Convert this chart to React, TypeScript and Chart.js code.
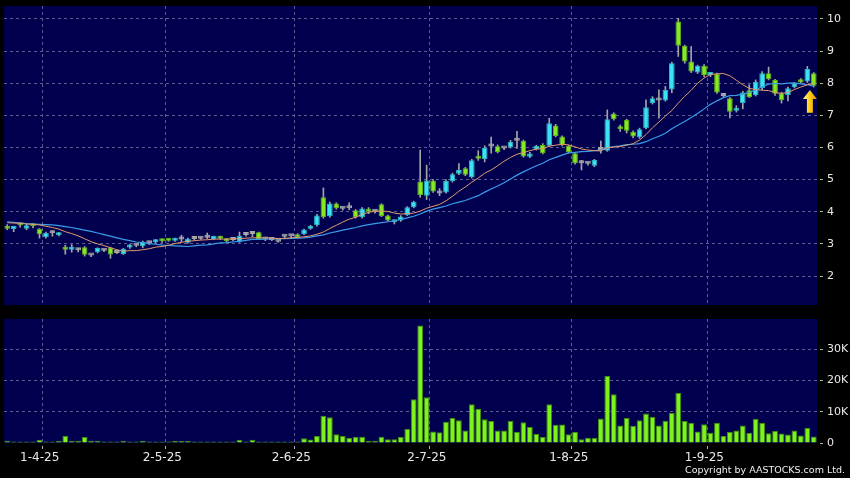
import React, { useEffect, useRef } from 'react';
import { Chart, registerables } from 'chart.js';

Chart.register(...registerables);

// ---------- data ----------
const opens = [
  3.55, 3.46, 3.64, 3.47, 3.61, 3.46, 3.21, 3.33, 3.27, 2.88,
  2.82, 2.80, 2.90, 2.64, 2.74, 2.79, 2.89, 2.72, 2.69, 2.89,
  2.94, 2.93, 3.02, 3.05, 3.13, 3.13, 3.10, 3.14, 3.04, 3.15,
  3.16, 3.19, 3.15, 3.22, 3.14, 3.12, 3.07, 3.28, 3.31, 3.36,
  3.14, 3.12, 3.07, 3.22, 3.24, 3.30, 3.31, 3.47, 3.58, 4.45,
  3.86, 4.26, 4.09, 4.11, 4.05, 3.83, 4.02, 4.00, 4.23, 3.88,
  3.67, 3.73, 3.90, 4.14, 4.94, 4.50, 4.97, 4.57, 4.60, 4.96,
  5.18, 5.35, 5.08, 5.68, 5.64, 6.03, 6.04, 5.97, 6.00, 6.21,
  6.21, 5.71, 5.94, 6.08, 6.05, 6.68, 6.34, 6.05, 5.82, 5.51,
  5.49, 5.43, 5.92, 5.90, 7.06, 6.65, 6.86, 6.49, 6.32, 6.60,
  7.38, 7.46, 7.46, 7.80, 9.92, 9.16, 8.67, 8.33, 8.54, 8.25,
  8.29, 7.60, 7.53, 7.14, 7.38, 7.78, 7.63, 7.84, 8.31, 8.10,
  7.69, 7.63, 7.87, 8.12, 8.05, 8.31,
];
const highs = [
  3.60, 3.55, 3.66, 3.62, 3.63, 3.48, 3.37, 3.41, 3.36, 2.96,
  2.98, 2.86, 2.92, 2.67, 2.88, 2.82, 2.90, 2.74, 2.86, 2.99,
  2.97, 3.09, 3.06, 3.14, 3.15, 3.15, 3.18, 3.27, 3.18, 3.18,
  3.20, 3.34, 3.24, 3.24, 3.16, 3.14, 3.37, 3.32, 3.38, 3.37,
  3.16, 3.15, 3.09, 3.25, 3.26, 3.32, 3.46, 3.58, 3.92, 4.74,
  4.30, 4.28, 4.12, 4.28, 4.07, 4.13, 4.13, 4.04, 4.25, 3.90,
  3.75, 3.88, 4.16, 4.33, 5.92, 5.45, 5.00, 4.72, 5.00, 5.20,
  5.50, 5.38, 5.63, 5.90, 6.05, 6.32, 6.08, 6.00, 6.22, 6.50,
  6.23, 5.85, 6.07, 6.12, 6.91, 6.72, 6.36, 6.07, 5.84, 5.60,
  5.53, 5.63, 6.20, 7.17, 7.08, 6.70, 6.88, 6.52, 6.60, 7.48,
  7.58, 7.79, 7.90, 8.65, 10.02, 9.18, 9.14, 8.56, 8.58, 8.32,
  8.31, 7.63, 7.55, 7.30, 7.75, 7.95, 8.10, 8.36, 8.50, 8.12,
  7.72, 7.88, 8.02, 8.14, 8.52, 8.33,
];
const lows = [
  3.44, 3.38, 3.52, 3.44, 3.50, 3.18, 3.18, 3.24, 3.25, 2.68,
  2.74, 2.75, 2.62, 2.60, 2.72, 2.76, 2.55, 2.70, 2.67, 2.86,
  2.91, 2.88, 2.98, 3.03, 3.05, 3.08, 3.08, 3.07, 3.02, 3.12,
  3.14, 3.16, 3.13, 3.14, 3.06, 3.09, 3.05, 3.24, 3.22, 3.14,
  3.10, 3.10, 3.05, 3.18, 3.20, 3.18, 3.29, 3.45, 3.55, 3.80,
  3.83, 4.08, 4.05, 4.06, 3.80, 3.80, 3.94, 3.96, 3.85, 3.70,
  3.62, 3.70, 3.88, 4.12, 4.45, 4.38, 4.60, 4.50, 4.58, 4.92,
  5.15, 5.12, 5.05, 5.60, 5.55, 5.82, 5.83, 5.93, 5.98, 5.97,
  5.70, 5.68, 5.92, 5.80, 6.03, 6.33, 6.05, 5.83, 5.48, 5.30,
  5.45, 5.40, 5.82, 5.88, 6.85, 6.50, 6.45, 6.30, 6.28, 6.58,
  7.35, 6.91, 7.44, 7.70, 8.83, 8.62, 8.33, 8.30, 8.20, 8.20,
  7.68, 7.55, 6.92, 7.10, 7.20, 7.55, 7.60, 7.80, 8.10, 7.62,
  7.38, 7.45, 7.85, 8.00, 8.02, 7.88,
];
const closes = [
  3.47, 3.51, 3.58, 3.58, 3.55, 3.30, 3.35, 3.33, 3.33, 2.82,
  2.88, 2.80, 2.66, 2.64, 2.87, 2.79, 2.67, 2.72, 2.85, 2.97,
  2.94, 3.07, 3.02, 3.13, 3.08, 3.10, 3.17, 3.14, 3.16, 3.15,
  3.16, 3.19, 3.22, 3.16, 3.08, 3.12, 3.25, 3.28, 3.31, 3.15,
  3.14, 3.12, 3.07, 3.22, 3.24, 3.20, 3.45, 3.56, 3.88, 3.83,
  4.26, 4.11, 4.09, 4.11, 3.83, 4.10, 4.00, 4.00, 3.87, 3.73,
  3.72, 3.85, 4.14, 4.31, 4.52, 4.97, 4.63, 4.57, 4.96, 5.17,
  5.30, 5.15, 5.60, 5.65, 5.98, 6.03, 5.86, 5.97, 6.18, 6.21,
  5.72, 5.81, 6.05, 5.82, 6.75, 6.36, 6.08, 5.85, 5.51, 5.51,
  5.49, 5.61, 5.92, 6.88, 6.88, 6.57, 6.52, 6.34, 6.57, 7.25,
  7.53, 7.46, 7.79, 8.62, 9.16, 8.67, 8.36, 8.54, 8.25, 8.30,
  7.71, 7.60, 7.11, 7.20, 7.71, 7.57, 8.04, 8.31, 8.13, 7.67,
  7.48, 7.84, 8.00, 8.02, 8.44, 7.92,
];
const ma10 = [
  3.66, 3.65, 3.64, 3.62, 3.61, 3.59, 3.55, 3.51, 3.46, 3.38,
  3.32, 3.25, 3.16, 3.07, 3.00, 2.95, 2.88, 2.82, 2.77, 2.79,
  2.79, 2.82, 2.85, 2.90, 2.92, 2.96, 3.01, 3.05, 3.08, 3.10,
  3.12, 3.13, 3.15, 3.15, 3.15, 3.16, 3.16, 3.18, 3.19, 3.19,
  3.19, 3.18, 3.17, 3.17, 3.19, 3.20, 3.22, 3.25, 3.30, 3.37,
  3.48, 3.58, 3.68, 3.77, 3.83, 3.92, 3.98, 4.02, 4.02, 4.01,
  3.96, 3.93, 3.94, 3.96, 4.02, 4.11, 4.17, 4.23, 4.34, 4.48,
  4.64, 4.77, 4.92, 5.05, 5.20, 5.30, 5.43, 5.57, 5.69, 5.79,
  5.84, 5.90, 5.95, 5.96, 6.04, 6.07, 6.10, 6.08, 6.02, 5.95,
  5.92, 5.90, 5.89, 6.00, 6.01, 6.03, 6.07, 6.12, 6.23, 6.40,
  6.61, 6.79, 6.98, 7.15, 7.38, 7.59, 7.78, 8.00, 8.16, 8.27,
  8.29, 8.30, 8.23, 8.09, 7.95, 7.84, 7.80, 7.78, 7.77, 7.71,
  7.68, 7.71, 7.80, 7.88, 7.95, 7.99,
];
const ma20 = [
  3.69, 3.67, 3.65, 3.63, 3.62, 3.61, 3.60, 3.59, 3.57, 3.54,
  3.51, 3.47, 3.43, 3.39, 3.34, 3.29, 3.24, 3.19, 3.14, 3.10,
  3.06, 3.04, 3.01, 2.99, 2.96, 2.95, 2.94, 2.93, 2.92, 2.94,
  2.96, 2.97, 3.00, 3.03, 3.04, 3.06, 3.08, 3.11, 3.14, 3.14,
  3.15, 3.16, 3.16, 3.16, 3.17, 3.18, 3.19, 3.21, 3.25, 3.28,
  3.34, 3.38, 3.43, 3.47, 3.51, 3.56, 3.60, 3.63, 3.66, 3.69,
  3.72, 3.76, 3.81, 3.86, 3.93, 4.02, 4.08, 4.13, 4.18, 4.25,
  4.30, 4.35, 4.43, 4.50, 4.61, 4.71, 4.80, 4.90, 5.02, 5.14,
  5.24, 5.34, 5.43, 5.51, 5.62, 5.69, 5.76, 5.83, 5.85, 5.87,
  5.88, 5.90, 5.92, 5.98, 6.03, 6.05, 6.09, 6.10, 6.12, 6.18,
  6.27, 6.35, 6.44, 6.58, 6.70, 6.81, 6.93, 7.06, 7.20, 7.34,
  7.45, 7.55, 7.61, 7.62, 7.66, 7.71, 7.79, 7.89, 7.97, 7.99,
  7.98, 8.00, 8.01, 7.98, 7.95, 7.91,
];
const volumes = [
  700, 400, 100, 200, 400, 1000, 400, 400, 600, 2200,
  700, 700, 1900, 700, 700, 300, 300, 300, 700, 400,
  100, 700, 400, 500, 300, 200, 600, 600, 600, 300,
  400, 300, 200, 200, 200, 100, 1000, 400, 1000, 400,
  400, 100, 100, 300, 300, 100, 1500, 1100, 2200, 8700,
  8200, 2800, 2200, 1700, 2000, 2000, 700, 700, 2000, 1200,
  1200, 1900, 4500, 14000, 37500, 14600, 3700, 3400, 6800, 8000,
  7300, 4000, 12400, 10900, 7600, 7000, 4000, 4000, 7000, 3600,
  6600, 5100, 2900, 1900, 12400, 5800, 5900, 2800, 3500, 1200,
  1700, 1600, 7800, 21400, 15600, 5600, 8000, 5500, 7300, 9400,
  8300, 5600, 7100, 9700, 16000, 7000, 6400, 3700, 6000, 3300,
  6500, 2200, 3500, 4000, 5600, 3300, 7700, 6400, 3100, 3800,
  3000, 2700, 4000, 2400, 4800, 2100,
];
const dateTickPositions = [5.5, 24.5, 44.5, 65.5, 87.5, 108.5];
const dateTickLabels = ['1-4-25', '2-5-25', '2-6-25', '2-7-25', '1-8-25', '1-9-25'];
const priceTicks = [2, 3, 4, 5, 6, 7, 8, 9, 10];
const volumeTicks = [0, 10000, 20000, 30000];
const arrowAt = 124.4;
const arrowTip = 7.79;
const arrowBase = 7.08;

// ---------- styles ----------
const FONT = 'DejaVu Sans';
const PANEL = '#00004f';
const GRID = '#5c5c90';
const TEXT = '#e8e8e8';
const TICK = '#b4b4b4';
const UP = '#3de2f0';
const UP_BORDER = '#27b4c6';
const DOWN = '#86ea22';
const DOWN_BORDER = '#5cb214';
const DOJI = '#a8a8a8';
const WICK = '#a4a4a4';
const MA10_COLOR = '#e39a6c';
const MA20_COLOR = '#3b9ce6';
const VOL = '#7ef21c';
const VOL_BORDER = '#3f8f0c';
const X_MIN = -0.5;
const X_MAX = closes.length - 0.5;

const panelBg = {
  id: 'panelBg',
  beforeDraw(chart: any) {
    const { ctx, chartArea: a } = chart;
    ctx.save();
    ctx.fillStyle = PANEL;
    ctx.fillRect(a.left, a.top, a.right - a.left, a.bottom - a.top);
    ctx.restore();
  },
};

const arrowPlugin = {
  id: 'lastArrow',
  afterDatasetsDraw(chart: any) {
    const { ctx } = chart;
    const xs = chart.scales.x;
    const ys = chart.scales.y;
    const cx = xs.getPixelForValue(arrowAt);
    const yt = ys.getPixelForValue(arrowTip);
    const yb = ys.getPixelForValue(arrowBase);
    const headW = 7, headH = 9, shaft = 3;
    ctx.save();
    const g = ctx.createLinearGradient(cx - headW, 0, cx + headW, 0);
    g.addColorStop(0, '#fff59a');
    g.addColorStop(0.45, '#ffd21a');
    g.addColorStop(1, '#d98c00');
    ctx.fillStyle = g;
    ctx.beginPath();
    ctx.moveTo(cx, yt);
    ctx.lineTo(cx + headW, yt + headH);
    ctx.lineTo(cx + shaft, yt + headH);
    ctx.lineTo(cx + shaft, yb);
    ctx.lineTo(cx - shaft, yb);
    ctx.lineTo(cx - shaft, yt + headH);
    ctx.lineTo(cx - headW, yt + headH);
    ctx.closePath();
    ctx.fill();
    ctx.restore();
  },
};

const setTicks = (values: number[]) => (scale: any) => {
  scale.ticks = values.map((v) => ({ value: v }));
};

const noPad = (s: any) => {
  s.paddingTop = 0;
  s.paddingBottom = 0;
  s.paddingLeft = 0;
  s.paddingRight = 0;
};

export default function App() {
  const priceRef = useRef<HTMLCanvasElement | null>(null);
  const volRef = useRef<HTMLCanvasElement | null>(null);

  useEffect(() => {
    const idx = closes.map((_, i) => i);
    const bodyColors = idx.map((i) => (closes[i] > opens[i] ? UP : closes[i] < opens[i] ? DOWN : DOJI));
    const bodyBorders = idx.map((i) => (closes[i] > opens[i] ? UP_BORDER : closes[i] < opens[i] ? DOWN_BORDER : DOJI));

    const xScaleBase = {
      type: 'linear' as const,
      min: X_MIN,
      max: X_MAX,
      offset: false,
      afterBuildTicks: setTicks(dateTickPositions),
    };

    const price = new Chart(priceRef.current as HTMLCanvasElement, {
      type: 'bar',
      data: {
        datasets: [
          {
            type: 'line',
            data: idx.map((i) => ({ x: i, y: ma10[i] })),
            borderColor: MA10_COLOR,
            borderWidth: 1,
            pointRadius: 0,
            tension: 0,
            order: 0,
          } as any,
          {
            type: 'line',
            data: idx.map((i) => ({ x: i, y: ma20[i] })),
            borderColor: MA20_COLOR,
            borderWidth: 1.2,
            pointRadius: 0,
            tension: 0,
            order: 0,
          } as any,
          {
            type: 'bar',
            data: idx.map((i) => ({ x: i, y: [opens[i], closes[i]] })),
            backgroundColor: bodyColors,
            borderColor: bodyBorders,
            borderWidth: 1,
            borderSkipped: false,
            barPercentage: 0.88,
            categoryPercentage: 1,
            grouped: false,
            minBarLength: 3,
            order: 1,
          } as any,
          {
            type: 'bar',
            data: idx.map((i) => ({ x: i, y: [lows[i], highs[i]] })),
            backgroundColor: WICK,
            borderWidth: 0,
            barThickness: 1,
            grouped: false,
            order: 2,
          } as any,
        ],
      },
      options: {
        responsive: false,
        animation: false,
        devicePixelRatio: 1,
        events: [],
        layout: { padding: { left: 4, top: 6, right: 0, bottom: 7 }, autoPadding: false } as any,
        plugins: { legend: { display: false }, tooltip: { enabled: false } },
        scales: {
          x: {
            ...xScaleBase,
            grid: { color: GRID, offset: false, drawTicks: false },
            border: { display: false, dash: [3, 3] },
            ticks: { display: false },
            afterFit: (s: any) => {
              s.height = 0;
              noPad(s);
            },
          } as any,
          y: {
            type: 'linear',
            position: 'right',
            min: 1.1,
            max: 10.4,
            beginAtZero: false,
            afterBuildTicks: setTicks(priceTicks),
            grid: {
              color: GRID,
              drawTicks: true,
              tickLength: 6,
              tickColor: TICK,
              tickBorderDash: [3, 3],
              tickBorderDashOffset: 3,
            },
            border: { display: false, dash: [3, 3] },
            ticks: {
              color: TEXT,
              font: { family: FONT, size: 11 },
              padding: 4,
              callback: (v: any) => String(v),
            },
            afterFit: (s: any) => {
              s.width = 33;
              noPad(s);
            },
          } as any,
        },
      },
      plugins: [panelBg, arrowPlugin],
    });

    const volume = new Chart(volRef.current as HTMLCanvasElement, {
      type: 'bar',
      data: {
        datasets: [
          {
            data: idx.map((i) => ({ x: i, y: volumes[i] })),
            backgroundColor: VOL,
            borderColor: VOL_BORDER,
            borderWidth: 1,
            barPercentage: 0.9,
            categoryPercentage: 1,
            minBarLength: 1.5,
          } as any,
        ],
      },
      options: {
        responsive: false,
        animation: false,
        devicePixelRatio: 1,
        events: [],
        layout: { padding: { left: 4, top: 7, right: 0, bottom: 0 }, autoPadding: false } as any,
        plugins: { legend: { display: false }, tooltip: { enabled: false } },
        scales: {
          x: {
            ...xScaleBase,
            grid: {
              color: GRID,
              offset: false,
              drawTicks: true,
              tickLength: 6,
              tickColor: TICK,
              tickBorderDash: [3, 3],
              tickBorderDashOffset: 3,
            },
            border: { display: false, dash: [3, 3] },
            ticks: {
              color: TEXT,
              font: { family: FONT, size: 12 },
              padding: 2,
              labelOffset: -3,
              maxRotation: 0,
              autoSkip: false,
              callback: (v: any) => {
                const k = dateTickPositions.indexOf(Number(v));
                return k >= 0 ? dateTickLabels[k] : '';
              },
            },
            afterFit: (s: any) => {
              s.height = 35;
              noPad(s);
            },
          } as any,
          y: {
            type: 'linear',
            position: 'right',
            min: 0,
            max: 39600,
            beginAtZero: true,
            afterBuildTicks: setTicks(volumeTicks),
            grid: {
              color: (c: any) => (c.tick && c.tick.value === 0 ? 'rgba(0,0,0,0)' : GRID),
              drawTicks: true,
              tickLength: 6,
              tickColor: TICK,
              tickBorderDash: [3, 3],
              tickBorderDashOffset: 3,
            },
            border: { display: false, dash: [3, 3] },
            ticks: {
              color: TEXT,
              font: { family: FONT, size: 11 },
              padding: 4,
              callback: (v: any) => (Number(v) === 0 ? '0' : `${Number(v) / 1000}K`),
            },
            afterFit: (s: any) => {
              s.width = 33;
              noPad(s);
            },
          } as any,
        },
      },
      plugins: [panelBg],
    });

    return () => {
      price.destroy();
      volume.destroy();
    };
  }, []);

  return (
    <div
      style={{
        position: 'fixed',
        left: 0,
        top: 0,
        width: 850,
        height: 478,
        background: '#000',
        overflow: 'hidden',
      }}
    >
      <canvas
        ref={priceRef}
        width={850}
        height={312}
        style={{ position: 'absolute', left: 0, top: 0, width: 850, height: 312, display: 'block' }}
      />
      <canvas
        ref={volRef}
        width={850}
        height={166}
        style={{ position: 'absolute', left: 0, top: 312, width: 850, height: 166, display: 'block' }}
      />
      <div
        style={{
          position: 'absolute',
          right: 5,
          top: 465,
          fontFamily: FONT,
          fontSize: 9.5,
          lineHeight: 1,
          color: '#f0f0f0',
          whiteSpace: 'nowrap',
        }}
      >
        Copyright by AASTOCKS.com Ltd.
      </div>
    </div>
  );
}
